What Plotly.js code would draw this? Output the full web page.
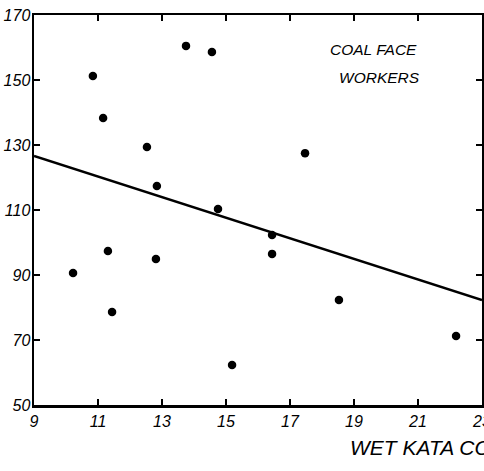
<!DOCTYPE html>
<html>
<head>
<meta charset="utf-8">
<script src="https://cdn.plot.ly/plotly-3.0.1.min.js"></script>
<style>html,body{margin:0;padding:0;background:#fff;}#chart{width:484px;height:471px;}</style>
</head>
<body>
<div id="chart"></div>
<script>
// Wet kata cooling power (x) vs value (y) for coal face workers
const kataX = [10.22, 10.84, 11.16, 11.31, 11.44, 12.53, 12.84, 12.81, 13.75, 14.56, 14.75, 15.19, 16.44, 16.44, 17.47, 18.53, 22.19];
const valueY = [90.6, 151.2, 138.3, 97.4, 78.6, 129.4, 117.4, 94.9, 160.5, 158.6, 110.3, 62.3, 102.3, 96.5, 127.5, 82.3, 71.2];
// Fitted regression line end points
const lineX = [9, 23];
const lineY = [126.6, 82.3];
const xTicks = [9, 11, 13, 15, 17, 19, 21, 23];
const yTicks = [50, 70, 90, 110, 130, 150, 170];
const groupLabel1 = "COAL FACE";
const groupLabel2 = "WORKERS";
const xTitle = "WET KATA COOLING POWER";

const fam = "Liberation Sans, DejaVu Sans, sans-serif";
const font = {family: fam, size: 16, color: "#000", style: "italic"};

const traces = [
  {x: lineX, y: lineY, type: "scatter", mode: "lines", line: {color: "#000", width: 2.5}, hoverinfo: "skip", showlegend: false},
  {x: kataX, y: valueY, type: "scatter", mode: "markers", marker: {color: "#000", size: 8.5}, showlegend: false}
];

const axisCommon = {
  showgrid: false, zeroline: false, showline: true, linecolor: "#000", linewidth: 2.5,
  mirror: "ticks", ticks: "inside", ticklen: 6, tickwidth: 2, tickcolor: "#000",
  tickfont: font, ticklabeloverflow: "allow"
};

const annFont = {family: fam, size: 15.5, color: "#000", style: "italic"};

const layout = {
  width: 484, height: 471,
  margin: {l: 34, r: 2, t: 15, b: 66},
  paper_bgcolor: "#fff", plot_bgcolor: "#fff",
  font: font,
  xaxis: Object.assign({}, axisCommon, {range: [9, 23], tickvals: xTicks, ticktext: xTicks.map(String)}),
  yaxis: Object.assign({}, axisCommon, {range: [50, 170], tickvals: yTicks, ticktext: yTicks.map(String), ticklabelstandoff: -2}),
  annotations: [
    {text: groupLabel1, xref: "x", yref: "y", x: 19.6, y: 159.5, showarrow: false, font: annFont, yanchor: "middle"},
    {text: groupLabel2, xref: "x", yref: "y", x: 19.8, y: 150.9, showarrow: false, font: annFont, yanchor: "middle"},
    {text: xTitle, xref: "paper", yref: "paper", x: 0.702, y: -0.11, xanchor: "left", yanchor: "middle",
     showarrow: false, font: {family: fam, size: 21, color: "#000", style: "italic"}}
  ]
};

Plotly.newPlot("chart", traces, layout, {displayModeBar: false, staticPlot: true});
</script>
</body>
</html>
